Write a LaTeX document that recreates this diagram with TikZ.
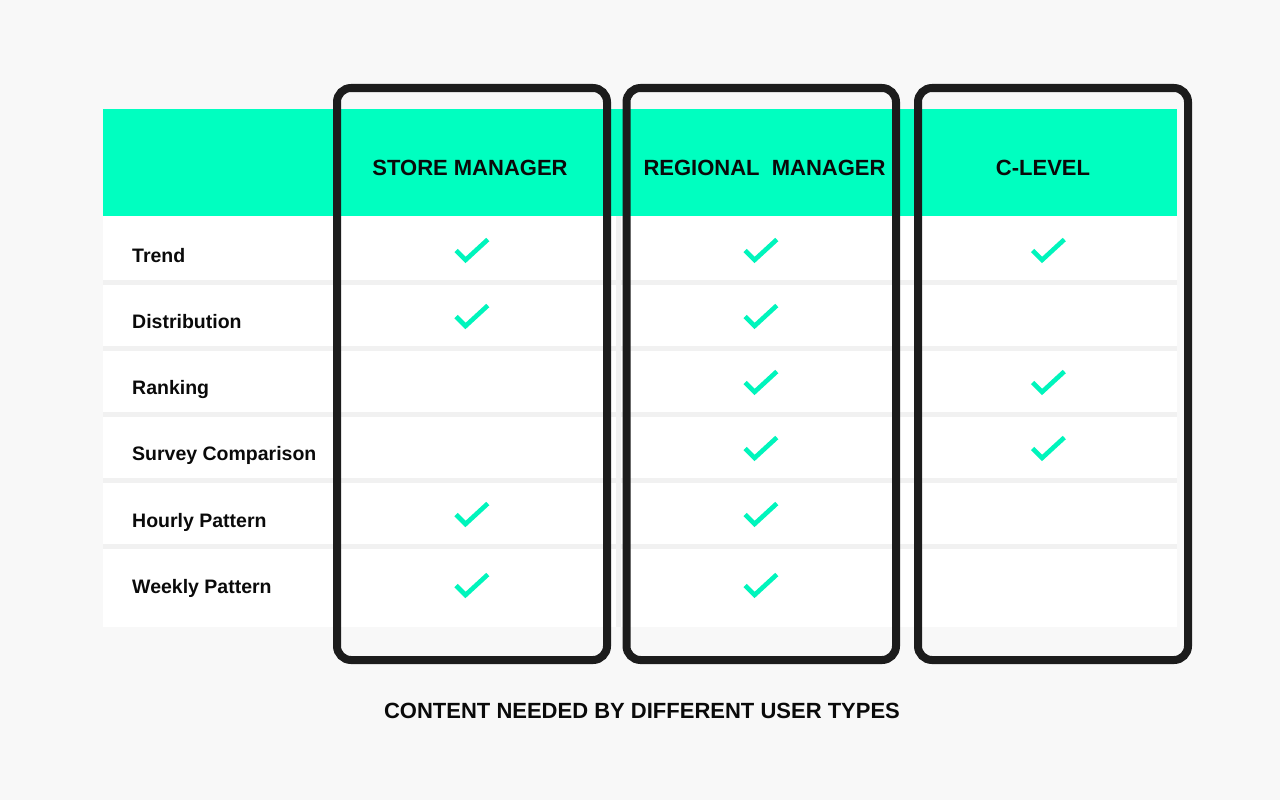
\documentclass[tikz,border=0pt]{standalone}
\usepackage{fontspec}
\setmainfont{Liberation Sans}
\definecolor{bgc}{HTML}{F8F8F8}
\definecolor{gapc}{HTML}{F1F1F1}
\definecolor{headc}{HTML}{00FFC0}
\definecolor{chkc}{HTML}{00F5BC}
\definecolor{boxc}{HTML}{1C1C1C}
\definecolor{txtc}{HTML}{0A0A0A}
\tikzset{
  lbl/.style={anchor=base west, inner sep=0pt, text=txtc, font=\fontsize{19.5}{22}\selectfont\bfseries},
  hdr/.style={anchor=base, inner sep=0pt, text=txtc, font=\fontsize{22}{26}\selectfont\bfseries},
  ttl/.style={anchor=base, inner sep=0pt, text=txtc, font=\fontsize{22}{26}\selectfont\bfseries},
  colbox/.style={draw=boxc, line width=8pt, rounded corners=14pt},
  chkline/.style={draw=chkc, line width=4.6pt, line join=miter},
  chk/.pic={\draw[chkline] (-16,-0.5) -- (-6.5,9) -- (15.8,-11.5);}
}
\begin{document}
\begin{tikzpicture}[x=1pt,y=-1pt]
\useasboundingbox (0,0) rectangle (1280,800);
\fill[bgc] (0,0) rectangle (1280,800);
% header band
\fill[headc] (103,108.5) rectangle (1177,216);
% body background (gaps)
\fill[gapc] (103,216) rectangle (1177,627);
% white cells
\foreach \ya/\yb in {216/280,285/346,351/412,417/478,483/544,549/627}{
  \fill[white] (103,\ya) rectangle (616,\yb);
  \fill[white] (621,\ya) rectangle (1177,\yb);
}
% column boxes
\draw[colbox] (337,88) rectangle (607,660);
\draw[colbox] (626.5,88) rectangle (896,660);
\draw[colbox] (918,88) rectangle (1188,660);
% headers
\node[hdr] (h1) at (470,175) {STORE MANAGER};
\node[hdr] (h2) at (764.5,175) {REGIONAL\ \ MANAGER};
\node[hdr] (h3) at (1043,175) {C-LEVEL};
% row labels
\node[lbl] (r1) at (132,262) {Trend};
\node[lbl] (r2) at (132,328) {Distribution};
\node[lbl] (r3) at (132,394) {Ranking};
\node[lbl] (r4) at (132,460) {Survey Comparison};
\node[lbl] (r5) at (132,527) {Hourly Pattern};
\node[lbl] (r6) at (132,593) {Weekly Pattern};
% checks
\pic (c11) at (472,251) {chk};
\pic (c21) at (472,317) {chk};
\pic (c51) at (472,515) {chk};
\pic (c61) at (472,586) {chk};
\pic (c12) at (761,251) {chk};
\pic (c22) at (761,317) {chk};
\pic (c32) at (761,383) {chk};
\pic (c42) at (761,449) {chk};
\pic (c52) at (761,515) {chk};
\pic (c62) at (761,586) {chk};
\pic (c13) at (1048.5,251) {chk};
\pic (c33) at (1048.5,383) {chk};
\pic (c43) at (1048.5,449) {chk};
% title
\node[ttl] (title) at (642,718) {CONTENT NEEDED BY DIFFERENT USER TYPES};
\end{tikzpicture}
\end{document}
